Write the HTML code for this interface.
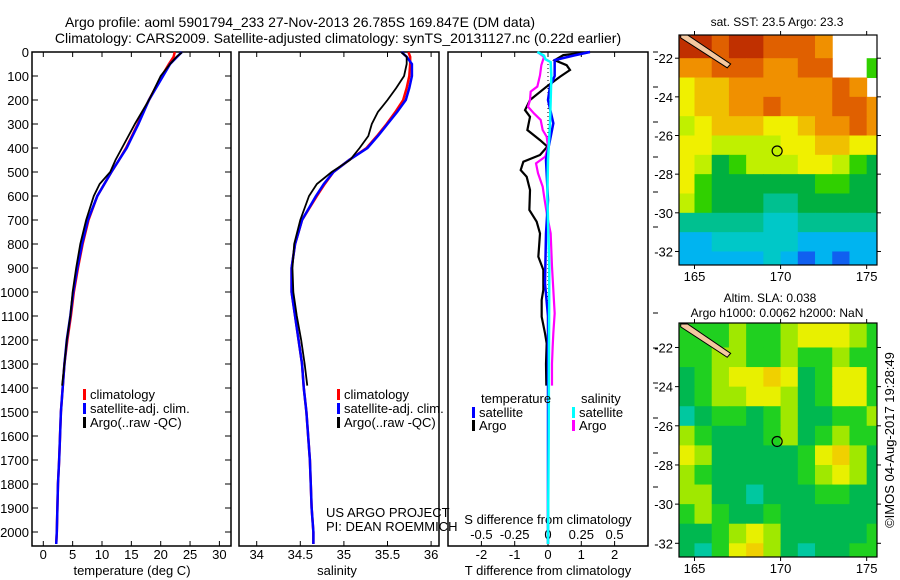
<!DOCTYPE html>
<html><head><meta charset="utf-8"><style>
html,body{margin:0;padding:0;background:#fff;}
svg{display:block;font-family:"Liberation Sans",sans-serif;}
</style></head><body>
<svg id="fig" width="900" height="580" viewBox="0 0 900 580"></svg>
<script>
// ---------- data ----------
const tDepth=[0,20,50,100,150,200,250,300,350,400,450,500,550,600,700,800,900,1000,1100,1200,1300,1400,1500,1600,1700,1800,1900,2000,2050];
const tClim=[22.4,22.2,21.4,20.2,19.1,18.0,17.0,16.1,15.1,14.1,12.9,11.6,10.4,9.2,7.7,6.7,5.9,5.2,4.7,4.1,3.6,3.3,3.0,2.85,2.7,2.5,2.4,2.3,2.2];
const tSat=[23.6,22.8,21.6,20.4,19.2,18.0,17.1,16.2,15.2,14.2,12.9,11.6,10.4,9.2,7.6,6.6,5.8,5.1,4.6,4.0,3.6,3.3,3.0,2.85,2.7,2.5,2.4,2.3,2.2];
const sClim=[35.74,35.76,35.76,35.75,35.72,35.68,35.59,35.49,35.38,35.26,35.06,34.88,34.78,34.69,34.52,34.44,34.40,34.40,34.44,34.48,34.52,34.54,34.57,34.59,34.61,34.62,34.63,34.65,34.65];
const sSat=[35.66,35.72,35.78,35.78,35.75,35.71,35.61,35.50,35.39,35.27,35.06,34.88,34.77,34.68,34.52,34.44,34.40,34.40,34.44,34.48,34.52,34.54,34.57,34.59,34.61,34.62,34.63,34.65,34.65];
const argoDepth=[2,20,50,100,150,200,250,300,350,400,450,500,550,600,700,800,900,1000,1100,1200,1300,1390];
const tArgo=[23.6,22.7,21.6,20.0,19.0,18.0,16.8,15.6,14.5,13.4,12.3,11.4,9.6,8.6,7.3,6.3,5.6,5.0,4.6,4.0,3.6,3.2];
const sArgo=[35.66,35.72,35.72,35.69,35.60,35.50,35.39,35.32,35.28,35.18,35.07,34.86,34.69,34.60,34.50,34.43,34.41,34.42,34.46,34.51,34.55,34.58];
const dTArgoDepth=[0,13,34,55,75,103,144,200,242,270,325,367,394,429,457,492,520,575,658,707,756,853,908,991,1033,1103,1172,1214,1300,1390];
const dTArgo=[1.26,0.46,0.2,0.56,0.66,0.36,-0.04,-0.54,-0.69,-0.54,-0.62,-0.24,-0.02,-0.24,-0.74,-0.82,-0.64,-0.54,-0.56,-0.34,-0.24,-0.29,-0.14,-0.14,-0.19,-0.19,-0.09,-0.04,-0.06,-0.05];
const dSArgoDepth=[0,20,55,97,144,165,200,228,256,283,325,353,394,436,464,505,561,617,686,756,894,1089,1172,1228,1300,1390];
const dSArgo=[-0.08,-0.03,-0.05,-0.06,-0.08,-0.13,-0.135,-0.15,-0.105,-0.055,-0.04,-0.01,0,-0.02,-0.09,-0.075,-0.04,-0.025,-0.005,0.02,0.03,0.05,0.04,0.035,0.03,0.03];
const dTSatDepth=[0,15,34,100,144,200,297,367,450,617,756,964,1100,1300,1600,2050];
const dTSat=[1.26,0.76,0.2,0.2,0.06,0.0,0.16,0.06,-0.06,0.0,-0.06,-0.09,0,0,0,0];
const dSSatDepth=[0,15,30,42,100,300,450,600,900,1200,1600,2050];
const dSSat=[-0.08,-0.03,-0.02,0.02,0.025,0.015,0,-0.005,0.01,0.0075,0.005,0];
const depthTicks=[0,100,200,300,400,500,600,700,800,900,1000,1100,1200,1300,1400,1500,1600,1700,1800,1900,2000];
const tTicks=[0,5,10,15,20,25,30];
const sTicks=[34,34.5,35,35.5,36];
const dTTicks=[-2,-1,0,1,2];
const dSTicks=[-0.5,-0.25,0,0.25,0.5];
const sTickLabels=["34","34.5","35","35.5","36"];
const dSTickLabels=["-0.5","-0.25","0","0.25","0.5"];
const lonTicks=[165,170,175];
const latTicks=[-22,-24,-26,-28,-30,-32];
// SST map grid: rows lat -21..-33 (1 deg), cols lon 164..176; -1 = no data
const sstGrid=[
[11,11,10,11,11,10,10,10,9,-1,-1,-1],
[9,9,10,10,10,9,9,10,10,-1,-1,5],
[7,8,8,9,9,9,9,9,9,10,9,-1],
[7,8,8,9,9,10,9,9,9,10,10,9],
[6,7,8,8,8,7,7,8,9,9,10,9],
[7,7,6,6,6,6,7,7,8,8,7,7],
[7,6,4,5,6,6,6,7,7,6,5,4],
[7,5,4,4,4,4,4,4,5,5,4,4],
[6,5,4,4,4,3,3,4,4,4,4,4],
[3,3,3,3,3,2,2,3,3,3,3,3],
[1,1,2,2,2,2,2,1,1,1,1,1],
[1,1,1,1,1,2,1,0,1,0,1,1]];
const slaGrid=[
[2,2,2,3,2,2,3,4,4,4,3,2],
[2,2,3,3,2,2,3,2,2,3,2,2],
[1,2,3,4,4,5,4,1,2,4,4,2],
[1,2,3,3,4,4,3,1,2,4,4,2],
[0,1,2,2,1,2,3,1,1,2,2,3],
[3,2,1,1,1,2,3,1,2,3,2,2],
[4,3,1,1,1,1,1,2,4,5,3,1],
[3,2,1,1,1,1,1,2,3,4,3,1],
[3,3,1,1,0,1,1,1,2,2,1,1],
[2,3,2,1,1,2,1,1,1,1,1,1],
[1,1,2,3,4,3,1,1,1,1,1,2],
[1,0,2,4,5,3,1,0,1,1,2,2]];
const sstPal=["#1060f0","#00b4f0","#00c8c8","#00c090","#00b040","#30d000","#c0f000","#f0f000","#f0c000","#f09000","#e06000","#c03000"];
const slaPal=["#00c8a0","#00b850","#20d020","#a0e800","#e8f000","#f0d000"];
const argoLon=169.8, argoLat=-26.8;
const landLon=[164.2,164.6,167.1,166.9,164.2];
const landLat=[-20.8,-20.8,-22.3,-22.5,-20.95];

// ---------- helpers ----------
const NS="http://www.w3.org/2000/svg";
const svg=document.getElementById('fig');
function el(tag,attrs,parent){const e=document.createElementNS(NS,tag);for(const k in attrs)e.setAttribute(k,attrs[k]);(parent||svg).appendChild(e);return e;}
function txt(s,x,y,anchor,size,parent){const t=el('text',{x:x,y:y,'text-anchor':anchor||'middle','font-size':size||13,fill:'#000'},parent);t.textContent=s;return t;}
const top0=52, pxPerM=0.24, plotBottom=546;
const yD=d=>top0+d*pxPerM;
const xT=v=>43.3+v*5.87;
const xS=v=>256.7+(v-34)*87.2;
const xDT=v=>548+v*33.3;
const xDS=v=>548+v*133.2;
function poly(xs,ys,fx,color,w,name){const p=el('polyline',{points:xs.map((v,i)=>fx(v)+','+yD(ys[i])).join(' '),fill:'none',stroke:color,'stroke-width':w});

return p;}

// ---------- titles ----------
let t=txt('Argo profile: aoml 5901794_233 27-Nov-2013 26.785S 169.847E (DM data)',300,27,'middle',14);


t=txt('Climatology: CARS2009. Satellite-adjusted climatology: synTS_20131127.nc (0.22d earlier)',338,43,'middle',14);



// ---------- panels ----------
const panels=[[32,231],[239,439],[448,648]];
panels.forEach((p,i)=>{const r=el('rect',{x:p[0],y:52,width:p[1]-p[0],height:plotBottom-52,fill:'none',stroke:'#000','stroke-width':1.5});

});
depthTicks.forEach(d=>{const y=yD(d);
el('line',{x1:32,y1:y,x2:38,y2:y,stroke:'#000'});el('line',{x1:225,y1:y,x2:231,y2:y,stroke:'#000'});
const l=txt(String(d),29,y+5,'end',13);

});
tTicks.forEach(v=>{const x=xT(v);el('line',{x1:x,y1:plotBottom,x2:x,y2:plotBottom-5,stroke:'#000'});el('line',{x1:x,y1:52,x2:x,y2:57,stroke:'#000'});
const l=txt(String(v),x,559,'middle',13);

});
sTicks.forEach((v,i)=>{const x=xS(v);el('line',{x1:x,y1:plotBottom,x2:x,y2:plotBottom-5,stroke:'#000'});el('line',{x1:x,y1:52,x2:x,y2:57,stroke:'#000'});
const l=txt(sTickLabels[i],x,559,'middle',13);

});
dTTicks.forEach(v=>{const x=xDT(v);el('line',{x1:x,y1:plotBottom,x2:x,y2:plotBottom-5,stroke:'#000'});el('line',{x1:x,y1:52,x2:x,y2:57,stroke:'#000'});
const l=txt(String(v),x,559,'middle',13);

});
dSTicks.forEach((v,i)=>{const l=txt(dSTickLabels[i],xDS(v),539,'middle',13);

});
[52,87,122,157,192,227,313,348,383,418,453,487].forEach(y=>el('line',{x1:653,y1:y,x2:658,y2:y,stroke:'#000'}));
t=txt('temperature (deg C)',132,575,'middle',13);


t=txt('salinity',337,575,'middle',13);


t=txt('T difference from climatology',548,575,'middle',13);


t=txt('S difference from climatology',548,524,'middle',13);



const z=el('line',{x1:548,y1:52,x2:548,y2:plotBottom,stroke:'#000','stroke-dasharray':'1,3'});



poly(tClim,tDepth,xT,'#f00',2.5,'temperature-climatology-line');
poly(tSat,tDepth,xT,'#00f',2.5,'temperature-satellite-line');
poly(tArgo,argoDepth,xT,'#000',1.8,'temperature-argo-line');
poly(sClim,tDepth,xS,'#f00',2.5,'salinity-climatology-line');
poly(sSat,tDepth,xS,'#00f',2.5,'salinity-satellite-line');
poly(sArgo,argoDepth,xS,'#000',1.8,'salinity-argo-line');
poly(dTArgo,dTArgoDepth,xDT,'#000',2.2,'t-diff-argo-line');
poly(dSArgo,dSArgoDepth,xDS,'#f0f',2.2,'s-diff-argo-line');
poly(dTSat,dTSatDepth,xDT,'#00f',2.5,'t-diff-satellite-line');
poly(dSSat,dSSatDepth,xDS,'#0ff',2.5,'s-diff-satellite-line');

function legend(x,y,color,label,name){const m=el('rect',{x:x,y:y-9,width:3,height:11,fill:color});


const l=txt(label,x+7,y+1,'start',13);

}
legend(83,398,'#f00','climatology','legend-entry-climatology-1');
legend(83,412,'#00f','satellite-adj. clim.','legend-entry-satellite-1');
legend(83,426,'#000','Argo(..raw -QC)','legend-entry-argo-1');
legend(337,398,'#f00','climatology','legend-entry-climatology-2');
legend(337,412,'#00f','satellite-adj. clim.','legend-entry-satellite-2');
legend(337,426,'#000','Argo(..raw -QC)','legend-entry-argo-2');
t=txt('temperature',481,403,'start',13);


t=txt('salinity',581,403,'start',13);


legend(472,416,'#00f','satellite','legend-entry-t-satellite');
legend(472,429,'#000','Argo','legend-entry-t-argo');
legend(572,416,'#0ff','satellite','legend-entry-s-satellite');
legend(572,429,'#f0f','Argo','legend-entry-s-argo');
t=txt('US ARGO PROJECT',326,517,'start',13);


t=txt('PI: DEAN ROEMMICH',326,531,'start',13);



// ---------- maps ----------
function drawMap(top,bottom,grid,pal,name){
 const L=679,R=877,lon0=164.1,lon1=175.6,latT=top===35?-20.8:-20.75,latB=-32.7;
 const xL=lo=>L+(lo-lon0)*(R-L)/(lon1-lon0);
 const yL=la=>top+(latT-la)*(bottom-top)/(latT-latB);
 const g=el('g',{});
 
 
 const cp=el('clipPath',{id:'clip-'+name},g);el('rect',{x:L,y:top,width:R-L,height:bottom-top},cp);
 const cg=el('g',{'clip-path':'url(#clip-'+name+')'},g);
 grid.forEach((row,r)=>row.forEach((v,c)=>{if(v<0)return;
  const y0=yL(r===0?-20:-21-r),y1=yL(-22-r);
  const x0=xL(164+c),x1=xL(165+c);
  const rc=el('rect',{x:x0,y:y0,width:x1-x0+0.5,height:y1-y0+0.5,fill:pal[v]},cg);
  
  }));
 const land=el('polygon',{points:landLon.map((lo,i)=>xL(lo)+','+yL(landLat[i])).join(' '),fill:'#f4c8a0',stroke:'#000','stroke-width':1},cg);
 
 
 const c=el('circle',{cx:xL(argoLon),cy:yL(argoLat),r:5,fill:'none',stroke:'#000','stroke-width':1.2},g);
 
 
 el('rect',{x:L,y:top,width:R-L,height:bottom-top,fill:'none',stroke:'#000','stroke-width':1.2},g);
 lonTicks.forEach(lo=>{const x=xL(lo);el('line',{x1:x,y1:bottom,x2:x,y2:bottom+4,stroke:'#000'},g);el('line',{x1:x,y1:top,x2:x,y2:top-4,stroke:'#000'},g);
  const l=txt(String(lo),x,bottom+16,'middle',13,g);
  
  });
 latTicks.forEach(la=>{const y=yL(la);el('line',{x1:L,y1:y,x2:L-4,y2:y,stroke:'#000'},g);el('line',{x1:R,y1:y,x2:R+4,y2:y,stroke:'#000'},g);
  const l=txt(String(la),L-6,y+5,'end',13,g);
  
  });
}
drawMap(35,265,sstGrid,sstPal,'sst-map');
drawMap(323,557,slaGrid,slaPal,'sla-map');
t=txt('sat. SST: 23.5 Argo: 23.3',777,26,'middle',12);


t=txt('Altim. SLA: 0.038',770,302,'middle',12);


t=txt('Argo h1000: 0.0062 h2000: NaN',777,317,'middle',12);


t=txt('©IMOS 04-Aug-2017 19:28:49',0,0,'middle',13);
t.setAttribute('transform','translate(894,440) rotate(-90)');


</script>
</body></html>
